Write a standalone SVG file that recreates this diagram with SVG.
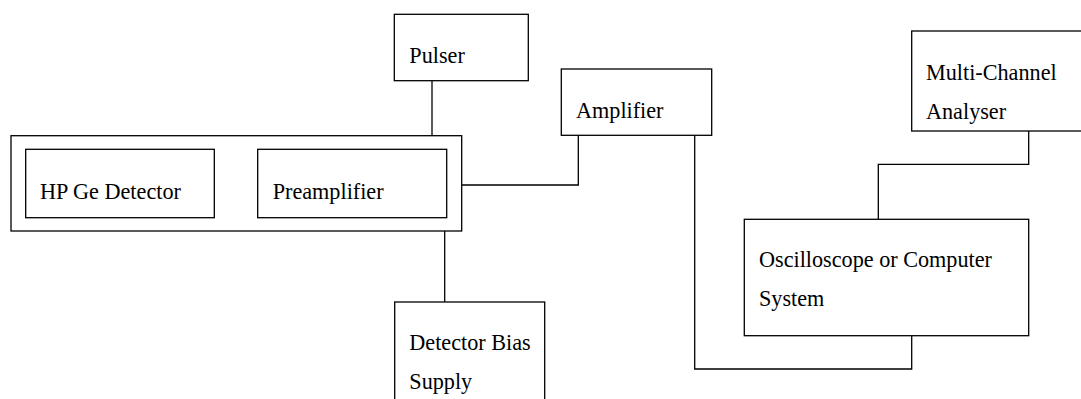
<svg xmlns="http://www.w3.org/2000/svg" width="1081" height="399" viewBox="0 0 1081 399">
<style>
.box{fill:#fff;stroke:#000;stroke-width:1.3}
.ln{fill:none;stroke:#000;stroke-width:1.3}
text{font-family:"Liberation Serif","Times New Roman",serif;font-size:22.2px;fill:#000}
</style>
<rect width="1081" height="399" fill="#fff"/>
<g id="connectors">
<path class="ln" d="M214.3,176.7H257.7"/>
<path class="ln" d="M432,80.7V135.7"/>
<path class="ln" d="M461.7,185H578.3V135.3"/>
<path class="ln" d="M444.7,231V302"/>
<path class="ln" d="M694.7,135.3V369H911.7V335.7"/>
<path class="ln" d="M1028.7,131V164.3H878.3V219.3"/>
</g>
<g id="detector-assembly">
<rect class="box" x="11" y="135.7" width="450.7" height="95.3"/>
</g>
<g id="hpge">
<rect class="box" x="25.7" y="149.3" width="188.6" height="68.4"/>
<text x="40" y="198.5">HP Ge Detector</text>
</g>
<g id="preamp">
<rect class="box" x="257.7" y="149.3" width="189" height="68.4"/>
<text x="272.7" y="198.5">Preamplifier</text>
</g>
<g id="pulser">
<rect class="box" x="394.3" y="14.3" width="134" height="66.4"/>
<text x="409.3" y="62.5">Pulser</text>
</g>
<g id="amplifier">
<rect class="box" x="561.3" y="69" width="150.4" height="66.3"/>
<text x="576" y="117.5">Amplifier</text>
</g>
<g id="mca">
<rect class="box" x="911.7" y="31" width="175" height="100"/>
<text x="926" y="80">Multi-Channel</text>
<text x="926" y="118.5">Analyser</text>
</g>
<g id="oscilloscope">
<rect class="box" x="744.3" y="219.3" width="284.4" height="116.4"/>
<text x="759" y="267">Oscilloscope or Computer</text>
<text x="759" y="306">System</text>
</g>
<g id="bias">
<rect class="box" x="394.7" y="302" width="150" height="110"/>
<text x="409.3" y="349.5">Detector Bias</text>
<text x="409.3" y="388.5">Supply</text>
</g>
</svg>
